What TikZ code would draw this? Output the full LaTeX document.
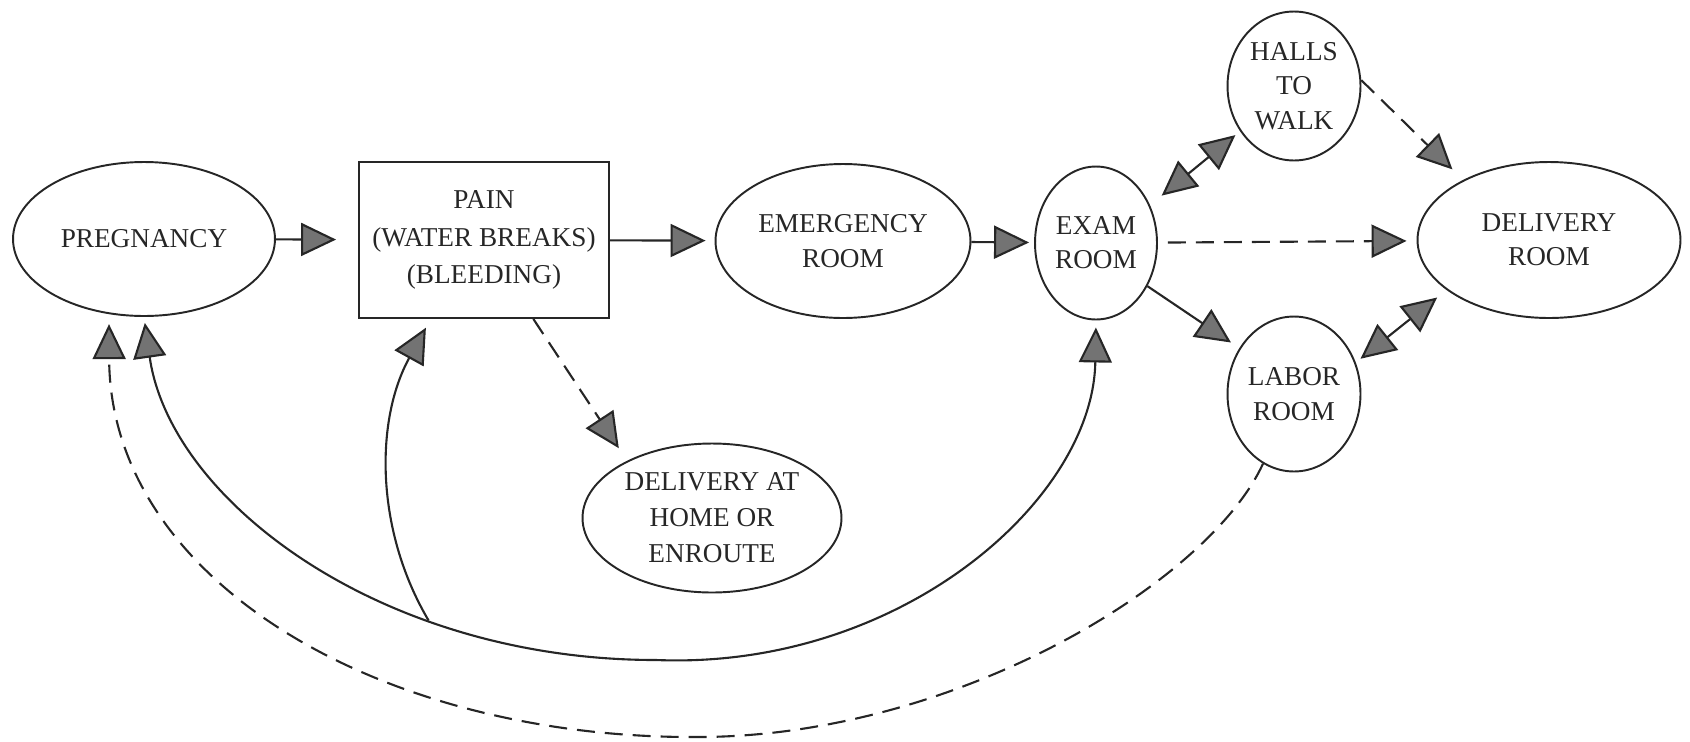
\documentclass[tikz,border=0pt]{standalone}
\usepackage{fontspec}
\setmainfont{Liberation Serif}
\usetikzlibrary{shapes.geometric,arrows.meta}
\tikzset{every node/.style={align=center}, >={Triangle[length=0.7cm,width=0.66cm,fill=black!55]}, font=\fontsize{15.5}{19.5}\selectfont}
\tikzset{room/.style={draw, ellipse, line width=1.1pt, inner sep=0pt},
    dashline/.style={dash pattern=on 0.36cm off 0.2cm}}

\begin{document}
\begin{tikzpicture}[x=0.02cm, y=-0.02cm, line width=1.2pt, color=black!85]
            \useasboundingbox (0,0) rectangle (1690,741);
            \node [room, minimum width=5.24cm, minimum height=3.08cm] (preg) at (144,239) {PREGNANCY};
            \node [draw, rectangle, line width=1.1pt, minimum width=5cm, minimum height=3.12cm, font=\fontsize{15.5}{21.5}\selectfont] (pain) at (484,240) {PAIN\\(WATER BREAKS)\\(BLEEDING)};
            \node [room, minimum width=5.1cm, minimum height=3.08cm] (er) at (843,241) {EMERGENCY\\ROOM};
            \node [room, minimum width=2.44cm, minimum height=3.06cm] (exam) at (1096,243) {EXAM\\ROOM};
            \node [room, minimum width=2.66cm, minimum height=2.98cm] (halls) at (1294,86) {HALLS\\TO\\WALK};
            \node [room, minimum width=2.66cm, minimum height=3.1cm] (labor) at (1294,394) {LABOR\\ROOM};
            \node [room, minimum width=5.26cm, minimum height=3.12cm] (deliv) at (1549,240) {DELIVERY\\ROOM};
            \node [room, minimum width=5.18cm, minimum height=2.98cm, font=\fontsize{15.5}{20.5}\selectfont] (home) at (712,518) {DELIVERY AT\\HOME OR\\ENROUTE};
            \path[->] (preg) edge [shorten >=0.44cm] (pain)
                (pain) edge [shorten >=0.18cm] (er)
                (er) edge [shorten >=0.1cm] (exam)
                (exam) edge [dashline, shorten <=0.2cm, shorten >=0.2cm] (deliv)
                (exam.35) edge [<->, shorten <=0.3cm, shorten >=0.12cm] (halls.220)
                (exam.-40) edge [shorten >=0.2cm] (labor.140)
                (labor.27) edge [<->, shorten <=0.12cm, shorten >=0.24cm] (deliv.206)
                (halls.5) edge [dashline, shorten >=0.3cm] (deliv.145)
                (pain.-58) edge [dashline, shorten >=0.3cm] (home.146);
            \draw [<->, shorten <=0.12cm, shorten >=0.14cm] (preg.south) .. controls (170,500) and (380,660) .. (656,660) coordinate [pos=0.7] (jn)
                .. controls (900,670) and (1093,500) .. (exam.south);
            \draw [->, shorten >=0.2cm] (jn) .. controls (375,530) and (375,420) .. (pain.-124);
            \draw [->, dashline, shorten >=0.2cm] (labor.-114) .. controls (1210,580) and (960,735) .. (702,737)
                .. controls (380,740) and (110,580) .. (preg.-115);
        \end{tikzpicture}
\end{document}
